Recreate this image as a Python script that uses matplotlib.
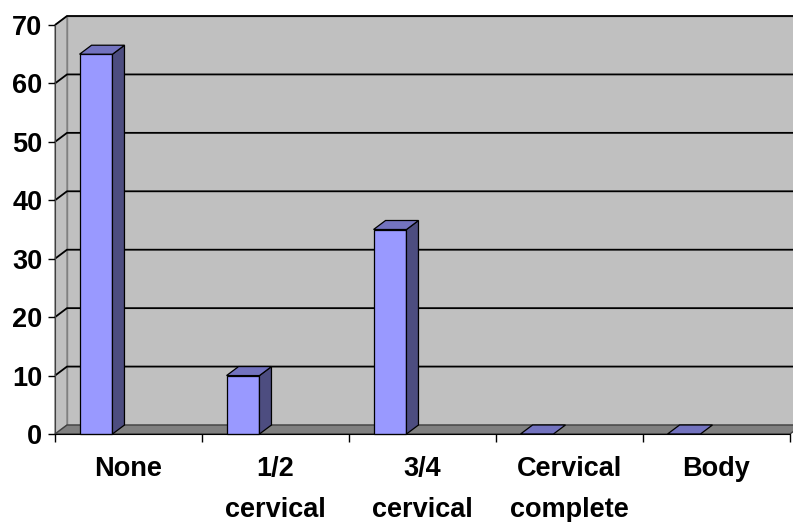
import matplotlib.pyplot as plt
from matplotlib.patches import Polygon
import numpy as np

# 数据
categories = ['None', '1/2\ncervical', '3/4\ncervical', 'Cervical\ncomplete', 'Body']
values = [65, 10, 35, 0, 0]
y_ticks = [0, 10, 20, 30, 40, 50, 60, 70]

plt.rcParams['font.family'] = ['Liberation Sans', 'DejaVu Sans']

W, H = 793, 522
fig = plt.figure(figsize=(W / 100, H / 100), dpi=100)
# 绘图区: x 55..790 px, y 0 -> 434 px, 70 -> 25 px
ax = fig.add_axes([55 / W, (H - 434) / H, 735 / W, 409 / H])
ax.set_xlim(-0.5, 4.5)
ax.set_ylim(0, 70)

# 深度偏移 (3D 斜投影), 约 12px 右, 9px 上
px_x = 735 / 5.0
px_y = 409 / 70.0
dx = 12 / px_x
dy = 9 / px_y

x0, x1 = -0.5, 4.5
wall_col = '#c0c0c0'
edge_col = '#808080'

# 背墙
ax.add_patch(Polygon([(x0 + dx, dy), (x1 + dx, dy), (x1 + dx, 70 + dy), (x0 + dx, 70 + dy)],
                     closed=True, fc=wall_col, ec=edge_col, lw=1, clip_on=False, zorder=1))
# 左墙
ax.add_patch(Polygon([(x0, 0), (x0 + dx, dy), (x0 + dx, 70 + dy), (x0, 70)],
                     closed=True, fc=wall_col, ec=edge_col, lw=1, clip_on=False, zorder=1))
# 地板
ax.add_patch(Polygon([(x0, 0), (x1, 0), (x1 + dx, dy), (x0 + dx, dy)],
                     closed=True, fc='#808080', ec='#404040', lw=1, clip_on=False, zorder=2))

# 网格线
for t in y_ticks[1:]:
    ax.plot([x0, x0 + dx, x1 + dx], [t, t + dy, t + dy], color='black', lw=1.3,
            clip_on=False, zorder=2, solid_capstyle='butt')

# 柱子
front_col = '#9999ff'
side_col = '#4d4d80'
top_col = '#7373bf'
for i, v in enumerate(values):
    a = i - 0.333
    b = i - 0.109
    if v > 0:
        ax.add_patch(Polygon([(a, 0), (b, 0), (b, v), (a, v)], closed=True,
                             fc=front_col, ec='black', lw=0.9, clip_on=False, zorder=4))
        ax.add_patch(Polygon([(b, 0), (b + dx, dy), (b + dx, v + dy), (b, v)], closed=True,
                             fc=side_col, ec='black', lw=0.9, clip_on=False, zorder=4))
    ax.add_patch(Polygon([(a, v), (b, v), (b + dx, v + dy), (a + dx, v + dy)], closed=True,
                         fc=top_col, ec='black', lw=0.9, clip_on=False, zorder=4))

# 坐标轴
for s in ['top', 'right']:
    ax.spines[s].set_visible(False)
ax.spines['left'].set_color('#404040')
ax.spines['bottom'].set_color('black')
ax.spines['left'].set_zorder(5)
ax.spines['bottom'].set_zorder(5)
ax.patch.set_visible(False)

ax.set_yticks(y_ticks)
ax.set_yticklabels([str(t) for t in y_ticks], fontsize=19.5, fontweight='bold')
ax.tick_params(axis='y', length=5, width=1, pad=4, color='black')

ax.set_xticks(range(len(categories)))
ax.set_xticklabels(categories, fontsize=19.5, fontweight='bold', linespacing=1.75, va='top')
ax.tick_params(axis='x', which='major', length=0, pad=16)
ax.set_xticks(np.arange(-0.5, 5, 1.0), minor=True)
ax.tick_params(axis='x', which='minor', length=6, width=1, color='black')

fig.savefig('out.png', dpi=100)
